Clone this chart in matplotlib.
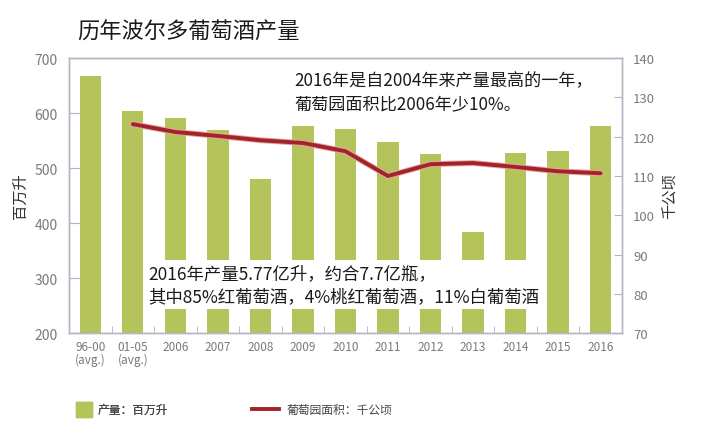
"""Bordeaux wine production by year (bars) with vineyard area (line)."""
import numpy as np
import matplotlib
matplotlib.use('Agg')
import matplotlib.pyplot as plt
import matplotlib.patheffects as pe
from matplotlib.lines import Line2D
from matplotlib.patches import Patch

plt.rcParams['font.family'] = ['Noto Sans CJK SC', 'DejaVu Sans']

# ------------------------------------------------------------------
# Data
# ------------------------------------------------------------------
years = ['96-00\n(avg.)', '01-05\n(avg.)', '2006', '2007', '2008', '2009', '2010',
         '2011', '2012', '2013', '2014', '2015', '2016']
production = [667, 604, 591, 569, 480, 577, 571, 548, 526, 384, 528, 531, 577]   # 百万升
area = [np.nan, 123.2, 121.2, 120.2, 119.1, 118.4, 116.3,
        110.0, 113.0, 113.3, 112.3, 111.2, 110.7]                               # 千公顷

title = '历年波尔多葡萄酒产量'
note_top = '2016年是自2004年来产量最高的一年，\n葡萄园面积比2006年少10%。'
note_mid = '2016年产量5.77亿升，约合7.7亿瓶，\n其中85%红葡萄酒，4%桃红葡萄酒，11%白葡萄酒'
legend_labels = ['产量：百万升', '葡萄园面积：千公顷']

BAR = '#b5c45a'
LINE = '#a3232b'
SPINE = '#b4b4c4'
TICK = '#7a7a7a'

# ------------------------------------------------------------------
# Figure
# ------------------------------------------------------------------
fig = plt.figure(figsize=(7.05, 4.35), dpi=100)
ax = fig.add_axes([0.098, 0.232, 0.784, 0.632])
x = np.arange(len(years))

ax.bar(x, production, width=0.5, color=BAR, zorder=2)
ax.set_ylim(200, 700)
ax.set_xlim(-0.5, len(years) - 0.5)
ax.set_yticks([200, 300, 400, 500, 600, 700])
ax.set_xticks(x)
ax.set_xticklabels(years, fontsize=8.5, color=TICK, linespacing=1.0)
ax.set_xticks(x[:-1] + 0.5, minor=True)
ax.tick_params(axis='x', which='major', length=0, pad=5)
ax.tick_params(axis='x', which='minor', direction='in', length=5, color=SPINE)
ax.tick_params(axis='y', direction='in', length=8, color=SPINE,
               labelsize=10, labelcolor=TICK, pad=8)
ax.set_ylabel('百万升', fontsize=11, color='#333333', labelpad=4)

ax2 = ax.twinx()
ax2.plot(x, area, color=LINE, lw=2.8, solid_capstyle='round', zorder=3,
         path_effects=[pe.Stroke(linewidth=4.2, foreground='#e6a3a3'), pe.Normal()])
ax2.set_ylim(70, 140)
ax2.set_yticks(np.arange(70, 141, 10))
ax2.tick_params(axis='y', direction='in', length=6, color=SPINE,
                labelsize=9.5, labelcolor=TICK, pad=8)
ax2.set_ylabel('千公顷', fontsize=11, color='#333333', rotation=90, labelpad=5)

for a in (ax, ax2):
    for s in a.spines.values():
        s.set_color(SPINE)
        s.set_linewidth(1.0)

# ------------------------------------------------------------------
# Texts
# ------------------------------------------------------------------
fig.text(0.11, 0.926, title, fontsize=16, color='#1a1a1a', va='center')
fig.text(0.418, 0.787, note_top, fontsize=12.3, color='#1a1a1a',
         va='center', linespacing=1.35)
fig.text(0.211, 0.344, note_mid, fontsize=12.5, color='#1a1a1a', va='center',
         linespacing=1.38,
         bbox=dict(boxstyle='square,pad=0.22', fc='white', ec='none'))

# Legend: two entries placed separately so the gaps match
leg1 = fig.legend([Patch(color=BAR)], legend_labels[:1], loc='center left',
                  bbox_to_anchor=(0.108, 0.057), frameon=False, fontsize=8.5,
                  handlelength=1.35, handleheight=1.6, handletextpad=0.45,
                  labelcolor='#444444', borderpad=0, borderaxespad=0)
fig.add_artist(leg1)
fig.legend([Line2D([], [], color=LINE, lw=2.8)], legend_labels[1:],
           loc='center left', bbox_to_anchor=(0.357, 0.057), frameon=False,
           fontsize=8.5, handlelength=2.35, handletextpad=0.6,
           labelcolor='#444444', borderpad=0, borderaxespad=0)

fig.savefig('out.png', dpi=100)
plt.close(fig)
